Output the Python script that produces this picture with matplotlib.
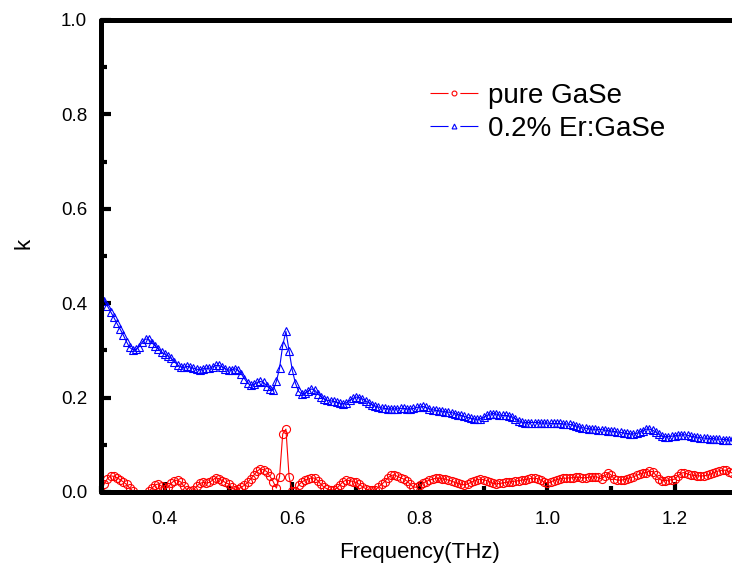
import numpy as np
import matplotlib
matplotlib.use("Agg")
from matplotlib import pyplot as plt
from matplotlib.ticker import MultipleLocator
from matplotlib.lines import Line2D

plt.rcParams['font.family'] = ['Liberation Sans', 'DejaVu Sans']
plt.rcParams['lines.scale_dashes'] = False

# frequency grid (THz), one point every 0.005 THz
freq = np.round(np.arange(0.300, 1.2901, 0.005), 3)

# pure GaSe
k_pure = [
    0.000, 0.017, 0.028, 0.034, 0.033, 0.030, 0.026, 0.021, 0.016, 0.008,
    0.002, -0.005, -0.010, -0.012, -0.008, 0.001, 0.008, 0.015, 0.017, 0.012,
    0.007, 0.010, 0.018, 0.024, 0.025, 0.021, 0.012, 0.004, 0.001, 0.005,
    0.012, 0.018, 0.020, 0.019, 0.020, 0.025, 0.030, 0.028, 0.024, 0.020,
    0.017, 0.010, 0.004, 0.006, 0.010, 0.014, 0.020, 0.028, 0.036, 0.044,
    0.049, 0.047, 0.043, 0.033, 0.022, 0.008, 0.032, 0.123, 0.133, 0.032,
    0.001, 0.001, 0.015, 0.021, 0.025, 0.027, 0.030, 0.029, 0.024, 0.016,
    0.010, 0.006, 0.004, 0.004, 0.008, 0.015, 0.022, 0.025, 0.024, 0.022,
    0.020, 0.016, 0.011, 0.007, 0.004, 0.003, 0.004, 0.010, 0.016, 0.022,
    0.030, 0.035, 0.036, 0.033, 0.030, 0.027, 0.023, 0.016, 0.010, 0.010,
    0.014, 0.019, 0.022, 0.025, 0.027, 0.029, 0.029, 0.028, 0.027, 0.025,
    0.023, 0.020, 0.018, 0.016, 0.015, 0.017, 0.020, 0.023, 0.026, 0.027,
    0.026, 0.024, 0.021, 0.018, 0.017, 0.018, 0.019, 0.020, 0.021, 0.022,
    0.023, 0.024, 0.025, 0.026, 0.027, 0.029, 0.029, 0.028, 0.025, 0.021,
    0.019, 0.021, 0.024, 0.026, 0.028, 0.029, 0.029, 0.030, 0.030, 0.031,
    0.031, 0.030, 0.030, 0.031, 0.032, 0.032, 0.031, 0.027, 0.033, 0.041,
    0.036, 0.027, 0.025, 0.025, 0.026, 0.028, 0.030, 0.032, 0.035, 0.038,
    0.040, 0.041, 0.044, 0.043, 0.036, 0.028, 0.024, 0.024, 0.025, 0.026,
    0.027, 0.034, 0.040, 0.041, 0.038, 0.036, 0.035, 0.034, 0.034, 0.034,
    0.035, 0.037, 0.040, 0.043, 0.045, 0.046, 0.046, 0.043, 0.040,
]

# 0.2% Er:GaSe
k_er = [
    0.414, 0.405, 0.394, 0.382, 0.370, 0.357, 0.345, 0.332, 0.318, 0.306,
    0.301, 0.302, 0.308, 0.318, 0.324, 0.323, 0.316, 0.309, 0.302, 0.296,
    0.292, 0.288, 0.283, 0.276, 0.269, 0.265, 0.264, 0.266, 0.265, 0.262,
    0.260, 0.259, 0.261, 0.262, 0.262, 0.265, 0.268, 0.268, 0.265, 0.261,
    0.258, 0.259, 0.261, 0.258, 0.250, 0.240, 0.230, 0.226, 0.228, 0.232,
    0.234, 0.232, 0.225, 0.218, 0.215, 0.234, 0.262, 0.311, 0.340, 0.299,
    0.258, 0.230, 0.213, 0.207, 0.209, 0.214, 0.218, 0.216, 0.208, 0.201,
    0.197, 0.194, 0.193, 0.192, 0.190, 0.188, 0.187, 0.189, 0.194, 0.198,
    0.201, 0.200, 0.197, 0.193, 0.189, 0.185, 0.182, 0.180, 0.178, 0.177,
    0.176, 0.176, 0.176, 0.176, 0.177, 0.177, 0.176, 0.176, 0.177, 0.179,
    0.180, 0.181, 0.179, 0.176, 0.174, 0.173, 0.172, 0.171, 0.170, 0.169,
    0.168, 0.166, 0.164, 0.162, 0.160, 0.158, 0.156, 0.155, 0.154, 0.155,
    0.158, 0.162, 0.165, 0.166, 0.165, 0.163, 0.162, 0.162, 0.161, 0.159,
    0.155, 0.151, 0.148, 0.147, 0.147, 0.147, 0.147, 0.147, 0.146, 0.146,
    0.146, 0.145, 0.145, 0.145, 0.145, 0.144, 0.144, 0.143, 0.142, 0.140,
    0.138, 0.136, 0.135, 0.134, 0.133, 0.133, 0.132, 0.132, 0.131, 0.130,
    0.129, 0.128, 0.127, 0.126, 0.125, 0.124, 0.123, 0.123, 0.124, 0.127,
    0.130, 0.133, 0.133, 0.131, 0.127, 0.122, 0.118, 0.117, 0.117, 0.118,
    0.119, 0.120, 0.121, 0.121, 0.120, 0.118, 0.117, 0.116, 0.115, 0.114,
    0.114, 0.113, 0.113, 0.112, 0.112, 0.111, 0.111, 0.110, 0.110,
]

fig = plt.figure(figsize=(7.32, 5.70), dpi=100)
ax = fig.add_axes([0.138, 0.137, 0.871, 0.828])

ax.plot(freq, k_pure, color='red', lw=0.8, marker='o', ms=5.8, mfc='none',
        mec='red', mew=0.8)
ax.plot(freq, k_er, color='blue', lw=0.8, marker='^', ms=5.8, mfc='none',
        mec='blue', mew=0.8)

ax.set_xlim(0.3, 1.3)
ax.set_ylim(0.0, 1.0)
ax.set_xticks([0.4, 0.6, 0.8, 1.0, 1.2])
ax.xaxis.set_minor_locator(MultipleLocator(0.1))
ax.yaxis.set_major_locator(MultipleLocator(0.2))
ax.yaxis.set_minor_locator(MultipleLocator(0.1))

for side in ['left', 'bottom', 'top']:
    ax.spines[side].set_linewidth(3.6)
    ax.spines[side].set_capstyle('round')
ax.spines['right'].set_visible(False)

ax.tick_params(which='major', direction='in', length=7, width=3,
               labelsize=13.5, pad=14, top=False, right=False)
ax.tick_params(axis='y', which='major', pad=10)
ax.tick_params(which='minor', direction='in', length=4, width=3,
               top=False, right=False)
for t in ax.xaxis.get_ticklines(minor=True) + ax.yaxis.get_ticklines(minor=True):
    t.set_solid_capstyle('round')

ax.set_xlabel('Frequency(THz)', fontsize=16, labelpad=10)
ax.set_ylabel('k', fontsize=16)
ax.yaxis.set_label_coords(-0.105, 0.527)

# legend keys: line broken around the symbol
gap = (13, 8.5, 13, 200)
handles = [
    Line2D([], [], color='red', lw=0.8, dashes=gap, marker='o', ms=3.5,
           mfc='none', mec='red', mew=0.8),
    Line2D([], [], color='blue', lw=0.8, dashes=gap, marker='^', ms=3.5,
           mfc='none', mec='blue', mew=0.8),
]
ax.legend(handles, ['pure GaSe', '0.2% Er:GaSe'], loc='upper left',
          bbox_to_anchor=(0.477, 0.919), frameon=False, fontsize=20,
          handlelength=1.72, handletextpad=0.36, labelspacing=0.25)

fig.savefig('out.png', dpi=100)
